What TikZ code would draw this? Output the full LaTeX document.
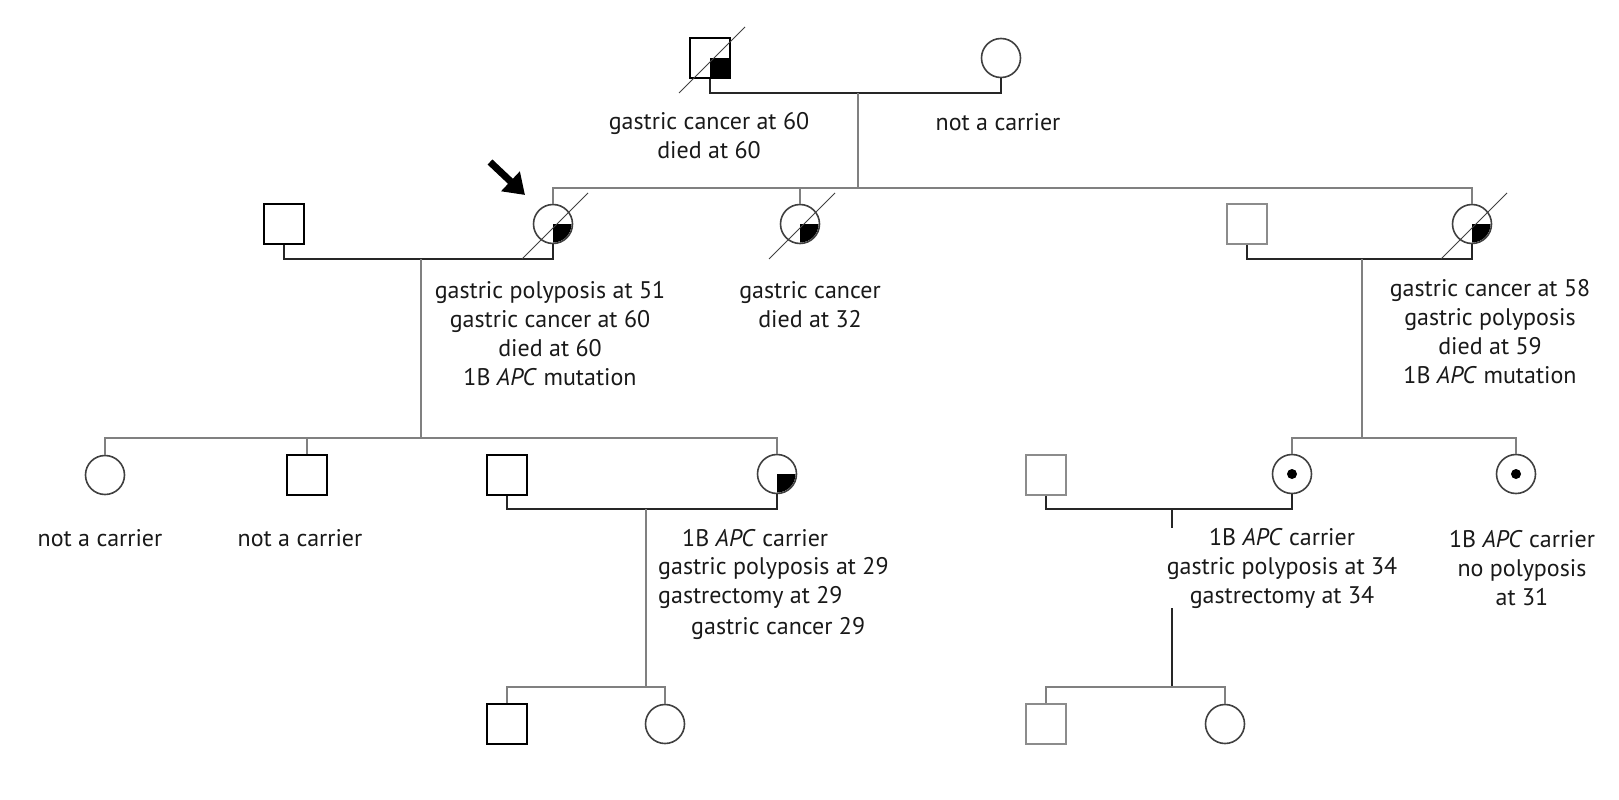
\documentclass[tikz,border=0pt]{standalone}
\usepackage{fontspec}
\setmainfont{PT Sans}
\usetikzlibrary{calc,positioning,arrows.meta}

\newcommand{\quarterfill}[1]{\begin{scope}\clip (#1.center) circle[radius=18.5pt]; \fill (#1.center) rectangle ++(25pt,-25pt);\end{scope}}
\newcommand{\deadslash}[1]{\draw[deadline] ($(#1)+(-31,-35)$) -- ($(#1)+(35,31)$);}

\begin{document}
\begin{tikzpicture}[x=1pt,y=1pt]

\tikzset{malenode/.style={shape=rectangle,draw=black,line width=1.6pt,fill=white,minimum size=40pt,inner sep=0pt},
palemale/.style={malenode,draw=black!45},
femnode/.style={shape=circle,draw=black!75,line width=1.6pt,fill=white,minimum size=39pt,inner sep=0pt},
note/.style={font=\fontsize{24}{29}\selectfont,align=center,inner sep=0pt,text=black!90},
mateline/.style={line width=1.6pt,color=black!85},
kinline/.style={line width=1.6pt,color=black!50},
deadline/.style={line width=1pt,color=black!75}}

\useasboundingbox (0,0) rectangle (1619,-800);

% Generation I
\node[malenode] (I1) at (710,-58) {};
\node[femnode] (I2) at (1001,-58) {};
\node[note] (tI1) at (709,-136) {gastric cancer at 60\\died at 60};
\node[note] (tI2) at (998,-122) {not a carrier};

% Generation II
\node[malenode] (II1) at (284,-224) {};
\node[femnode] (II2) at (553,-224) {};
\node[femnode] (II3) at (800,-224) {};
\node[palemale] (II4) at (1247,-224) {};
\node[femnode] (II5) at (1472,-224) {};
\node[note] (tII2) at (550,-334) {gastric polyposis at 51\\gastric cancer at 60\\died at 60\\1B \textit{APC} mutation};
\node[note] (tII3) at (810,-305) {gastric cancer\\died at 32};
\node[note] (tII5) at (1490,-332) {gastric cancer at 58\\gastric polyposis\\died at 59\\1B \textit{APC} mutation};

% Generation III
\node[femnode] (III1) at (105,-475) {};
\node[malenode] (III2) at (307,-475) {};
\node[malenode] (III3) at (507,-475) {};
\node[femnode] (III4) at (777,-474) {};
\node[palemale] (III5) at (1046,-475) {};
\node[femnode] (III6) at (1292,-474) {};
\node[femnode] (III7) at (1516,-474) {};
\node[note] (tIII1) at (100,-538) {not a carrier};
\node[note] (tIII2) at (300,-538) {not a carrier};

% Generation IV
\node[malenode] (IV1) at (507,-724) {};
\node[femnode] (IV2) at (665,-724) {};
\node[palemale] (IV3) at (1046,-724) {};
\node[femnode] (IV4) at (1225,-724) {};

% marriage and sibship points
\coordinate (m1) at (858,-93);  \coordinate (s1) at (858,-188);
\coordinate (m2) at (421,-259); \coordinate (s2) at (421,-438);
\coordinate (m3) at (1362,-259); \coordinate (s3) at (1362,-438);
\coordinate (m4) at (646,-509); \coordinate (s4) at (646,-687);
\coordinate (m5) at (1172,-509); \coordinate (s5) at (1172,-687);

% Couples
\draw[mateline] (I1.south) |- (m1) -| (I2.south);
\draw[mateline] (II1.south) |- (m2) -| (II2.south);
\draw[mateline] (II4.south) |- (m3) -| (II5.south);
\draw[mateline] (III3.south) |- (m4) -| (III4.south);
\draw[mateline] (III5.south) |- (m5) -| (III6.south);

% Descent and sibships
\draw[kinline] (m1) -- (s1);
\draw[kinline] (II2.north) |- (s1) -| (II5.north);
\draw[kinline] (II3.north) -- (II3.north |- s1);
\draw[kinline] (m2) -- (s2);
\draw[kinline] (III1.north) |- (s2) -| (III4.north);
\draw[kinline] (III2.north) -- (III2.north |- s2);
\draw[kinline] (m3) -- (s3);
\draw[kinline] (III6.north) |- (s3) -| (III7.north);
\draw[kinline] (m4) -- (s4);
\draw[kinline] (IV1.north) |- (s4) -| (IV2.north);
\draw[mateline] (m5) -- (s5);
\draw[kinline] (IV3.north) |- (s5) -| (IV4.north);

% Notes over the lines
\node[note,anchor=west] (tIII4a) at (682,-538) {1B \textit{APC} carrier};
\node[note,anchor=west] (tIII4b) at (658,-568) {gastric polyposis at 29};
\node[note,anchor=west] (tIII4c) at (658,-597) {gastrectomy at 29};
\node[note,anchor=west] (tIII4d) at (691,-628) {gastric cancer 29};
\node[note,fill=white] (tIII6) at (1282,-568) {1B \textit{APC} carrier\\gastric polyposis at 34\\gastrectomy at 34};
\node[note] (tIII7) at (1522,-568) {1B \textit{APC} carrier\\no polyposis\\at 31};

% Affected and carrier marks
\fill (I1.center) rectangle (I1.south east);
\foreach \n in {II2,II3,II5,III4} {\quarterfill{\n}}
\foreach \n in {III6,III7} {\fill (\n) circle[radius=5pt];}

% Deceased
\foreach \n in {I1,II2,II3,II5} {\deadslash{\n}}

% Proband
\coordinate (ptail) at (490,-162);
\coordinate (ptip) at (525,-195);
\draw[line width=7pt,-{Triangle[length=20pt,width=26pt]}] (ptail) -- (ptip);

\end{tikzpicture}
\end{document}
